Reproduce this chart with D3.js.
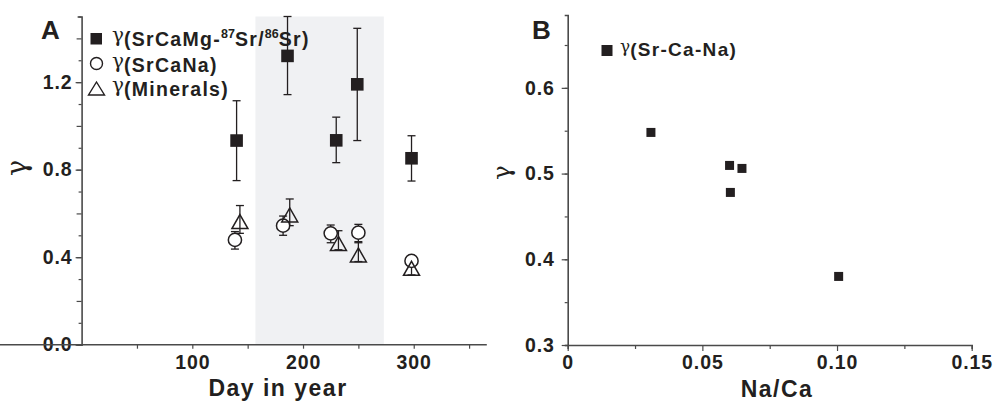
<!DOCTYPE html>
<html>
<head>
<meta charset="utf-8">
<script src="https://cdn.jsdelivr.net/npm/d3@7"></script>
<style>
  body { margin: 0; background: #fff; }
  svg { font-family: "Liberation Sans", Arial, sans-serif; font-weight: bold; }
  .gam { font-family: "DejaVu Serif", "Liberation Serif", serif; font-weight: normal; letter-spacing: 0; }
</style>
</head>
<body>
<div id="chart"></div>
<script>
// panel A data (day in year, gamma, error bar low/high)
const sqDays = [140, 186, 230, 249, 298];
const sqGamma = [0.933, 1.32, 0.934, 1.19, 0.852];
const sqLow = [0.75, 1.143, 0.832, 0.933, 0.748];
const sqHigh = [1.115, 1.5, 1.04, 1.446, 0.955];

const ciDays = [138.5, 182, 225, 250, 298];
const ciGamma = [0.479, 0.544, 0.509, 0.512, 0.383];
const ciLow = [0.437, 0.5, 0.466, 0.466, 0.362];
const ciHigh = [0.517, 0.588, 0.547, 0.55, 0.405];

const trDays = [143, 188, 232, 250, 298];
const trGamma = [0.563, 0.593, 0.463, 0.41, 0.349];
const trLow = [0.509, 0.544, 0.434, 0.38, 0.319];
const trHigh = [0.636, 0.666, 0.521, 0.471, 0.38];

const shadeDays = [157, 273];

// panel B data
const naCa = [0.0309, 0.0601, 0.0647, 0.0604, 0.1006];
const gammaB = [0.548, 0.5095, 0.506, 0.478, 0.38];

const ticksA = [0, 0.4, 0.8, 1.2];
const ticksDay = [100, 200, 300];
const ticksB = [0.3, 0.4, 0.5, 0.6];
const ticksNa = [0, 0.05, 0.1, 0.15];
const labelsNa = ["0", "0.05", "0.10", "0.15"];

const width = 997, height = 401;
const ink = "#231f20", axisCol = "#4a4a4a";

const svg = d3.select("#chart").append("svg")
  .attr("width", width).attr("height", height);

// ---------- panel A ----------
const xA = d3.scaleLinear().domain([0, 366]).range([81.6, 486.8]);
const yA = d3.scaleLinear().domain([0, 1.5]).range([344.7, 16.5]);

svg.append("rect")
  .attr("x", xA(shadeDays[0])).attr("y", yA(1.5))
  .attr("width", xA(shadeDays[1]) - xA(shadeDays[0]))
  .attr("height", yA(0) - yA(1.5))
  .attr("fill", "#f0f1f3");

const yAxisA = svg.append("g")
  .attr("transform", `translate(${xA(0)},0)`)
  .call(d3.axisLeft(yA).tickValues(d3.range(0, 1.51, 0.1)).tickSize(4).tickFormat(""));
yAxisA.selectAll(".tick line").attr("x2", (d, i) => i % 2 === 0 ? -5 : -3);
const yLabA = svg.append("g")
  .attr("transform", `translate(${xA(0)},0)`)
  .call(d3.axisLeft(yA).tickValues(ticksA).tickSize(6).tickPadding(3).tickFormat(d3.format(".1f")));
yLabA.select(".domain").remove();

const xAxisA = svg.append("g")
  .attr("transform", `translate(0,${yA(0)})`)
  .call(d3.axisBottom(xA).tickValues([50, 100, 150, 200, 250, 300, 350]).tickSize(4)
    .tickPadding(6).tickFormat(d => ticksDay.includes(d) ? d : ""));
xAxisA.selectAll(".domain").attr("d", `M0,0H${xA(366)}`);

// ---------- panel B ----------
const xB = d3.scaleLinear().domain([0, 0.15]).range([567.7, 971.7]);
const yB = d3.scaleLinear().domain([0.3, 0.685]).range([345, 15]);

const yAxisB = svg.append("g")
  .attr("transform", `translate(${xB(0)},0)`)
  .call(d3.axisLeft(yB).tickValues(d3.range(0.3, 0.67, 0.05)).tickSize(3).tickFormat(""));
const yLabB = svg.append("g")
  .attr("transform", `translate(${xB(0)},0)`)
  .call(d3.axisLeft(yB).tickValues(ticksB).tickSize(6).tickPadding(7).tickFormat(d3.format(".1f")));
yLabB.select(".domain").remove();

const xAxisB = svg.append("g")
  .attr("transform", `translate(0,${yB(0.3)})`)
  .call(d3.axisBottom(xB).tickValues([0, 0.025, 0.05, 0.075, 0.1, 0.125, 0.15]).tickSize(4)
    .tickPadding(6).tickFormat(d => {
      const i = ticksNa.findIndex(t => Math.abs(t - d) < 1e-9);
      return i >= 0 ? labelsNa[i] : "";
    }));
xAxisB.selectAll(".tick line").attr("y2", (d, i) => i % 2 === 0 ? 6 : 4);

svg.selectAll(".domain").attr("stroke", axisCol).attr("stroke-width", 1.6);
svg.selectAll(".tick line").attr("stroke", axisCol).attr("stroke-width", 1.2);
svg.selectAll(".tick text").attr("fill", ink).style("font-size", "19.5px")
  .style("letter-spacing", "0.9px")
  .style("font-family", "'Liberation Sans', Arial, sans-serif").style("font-weight", "bold");

// ---------- marks A ----------
function errorBars(days, low, high) {
  const g = svg.append("g").attr("stroke", ink).attr("stroke-width", 1.3);
  days.forEach((d, i) => {
    const x = xA(d);
    g.append("line").attr("x1", x).attr("x2", x).attr("y1", yA(low[i])).attr("y2", yA(high[i]));
    g.append("line").attr("x1", x - 4).attr("x2", x + 4).attr("y1", yA(low[i])).attr("y2", yA(low[i]));
    g.append("line").attr("x1", x - 4).attr("x2", x + 4).attr("y1", yA(high[i])).attr("y2", yA(high[i]));
  });
}
errorBars(sqDays, sqLow, sqHigh);
errorBars(ciDays, ciLow, ciHigh);
errorBars(trDays, trLow, trHigh);

const triPath = (w, h) => `M0,${-h / 2}L${w / 2},${h / 2}L${-w / 2},${h / 2}Z`;

svg.append("g").selectAll("rect").data(sqDays).join("rect")
  .attr("x", d => xA(d) - 6.3).attr("y", (d, i) => yA(sqGamma[i]) - 6.3)
  .attr("width", 12.6).attr("height", 12.6).attr("fill", ink);

svg.append("g").selectAll("circle").data(ciDays).join("circle")
  .attr("cx", d => xA(d)).attr("cy", (d, i) => yA(ciGamma[i])).attr("r", 6.6)
  .attr("fill", "#fff").attr("stroke", ink).attr("stroke-width", 1.5);

svg.append("g").selectAll("path").data(trDays).join("path")
  .attr("transform", (d, i) => `translate(${xA(d)},${yA(trGamma[i])})`)
  .attr("d", triPath(16, 14))
  .attr("fill", "none").attr("stroke", ink).attr("stroke-width", 1.5);

// ---------- marks B ----------
svg.append("g").selectAll("rect").data(naCa).join("rect")
  .attr("x", d => xB(d) - 4.5).attr("y", (d, i) => yB(gammaB[i]) - 4.5)
  .attr("width", 9).attr("height", 9).attr("fill", ink);

// ---------- legends ----------
const legA = svg.append("g");
legA.append("rect").attr("x", 90.5).attr("y", 33).attr("width", 11.5).attr("height", 11.5).attr("fill", ink);
legA.append("circle").attr("cx", 96.5).attr("cy", 63.5).attr("r", 6)
  .attr("fill", "none").attr("stroke", ink).attr("stroke-width", 1.4);
legA.append("path").attr("transform", "translate(96.5,88.5)").attr("d", triPath(16, 13))
  .attr("fill", "none").attr("stroke", ink).attr("stroke-width", 1.4);

function gammaText(x, y, size, gSize, parts) {
  const t = svg.append("text").attr("x", x).attr("y", y).attr("fill", ink)
    .style("font-size", size + "px").style("letter-spacing", "1.3px");
  const lift = Math.round(gSize * 0.22);
  t.append("tspan").attr("class", "gam").style("font-size", gSize + "px").attr("dy", -lift).text("γ");
  let shift = lift;
  parts.forEach(([s, sup]) => {
    const ts = t.append("tspan").text(s);
    if (sup) { ts.style("font-size", "12.5px").style("letter-spacing", "0").attr("dy", shift - 8); shift = 8; }
    else { ts.attr("dy", shift); shift = 0; }
  });
}
gammaText(112, 46, 19.5, 20, [["(SrCaMg-", 0], ["87", 1], ["Sr/", 0], ["86", 1], ["Sr)", 0]]);
gammaText(112, 72, 19.5, 20, [["(SrCaNa)", 0]]);
gammaText(112, 96, 19.5, 20, [["(Minerals)", 0]]);

svg.append("rect").attr("x", 601.5).attr("y", 45).attr("width", 11).attr("height", 11).attr("fill", ink);
gammaText(620, 56, 19, 17, [["(Sr-Ca-Na)", 0]]);

// ---------- titles ----------
svg.append("text").attr("x", 41).attr("y", 39).attr("fill", ink).style("font-size", "26px").text("A");
svg.append("text").attr("x", 532).attr("y", 39).attr("fill", ink).style("font-size", "26px").text("B");

svg.append("text").attr("x", 278).attr("y", 396).attr("text-anchor", "middle")
  .attr("fill", ink).style("font-size", "23px").style("letter-spacing", "1.5px").text("Day in year");
svg.append("text").attr("x", 777).attr("y", 397).attr("text-anchor", "middle")
  .attr("fill", ink).style("font-size", "23px").style("letter-spacing", "1.5px").text("Na/Ca");

svg.append("text").attr("class", "gam").attr("transform", "translate(26,168) rotate(-90)")
  .attr("text-anchor", "middle").attr("fill", ink).style("font-size", "27px").text("γ");
svg.append("text").attr("class", "gam").attr("transform", "translate(510,172.5) rotate(-90)")
  .attr("text-anchor", "middle").attr("fill", ink).style("font-size", "24px").text("γ");
</script>
</body>
</html>
